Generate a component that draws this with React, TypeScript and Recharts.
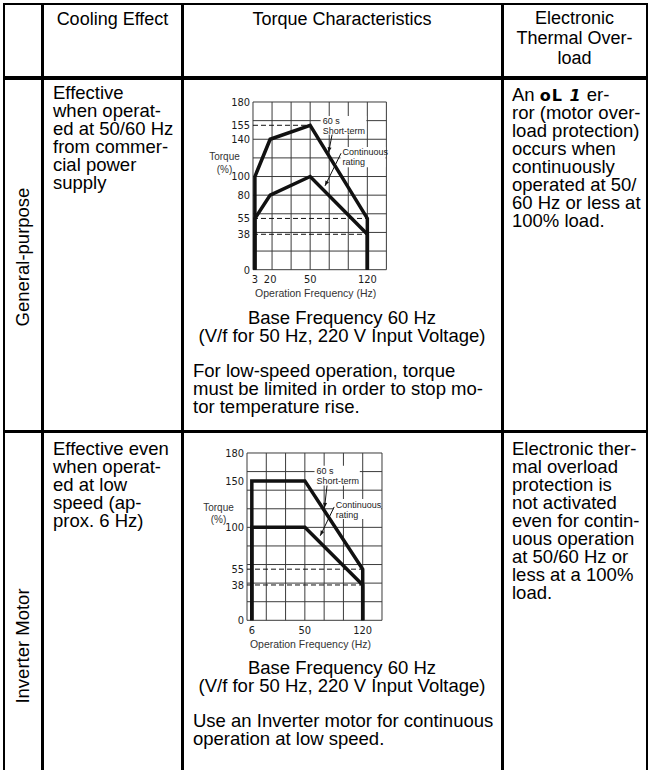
import React from 'react';
import { LineChart, Line, XAxis, YAxis, CartesianGrid, ReferenceLine, ReferenceArea } from 'recharts';

// General-purpose motor (short-term 60 s and continuous rating)
const gpFreq = [3, 3, 20, 50, 120, 120];
const gpShortTerm = [0, 100, 140, 155, 55, 0];
const gpContinuous = [0, 55, 80, 100, 38, 0];
const gpFreqTicks = [3, 20, 50, 120];
const gpTorqueTicks = [0, 38, 55, 80, 100, 140, 155, 180];
const gpGuideTorque = [155, 55, 38];
const gpGuideFreq = [50, 120, 120];

// Inverter motor
const invFreq = [6, 6, 50, 120, 120];
const invShortTerm = [0, 150, 150, 55, 0];
const invContinuous = [0, 100, 100, 38, 0];
const invFreqTicks = [6, 50, 120];
const invTorqueTicks = [0, 38, 55, 100, 150, 180];
const invGuideTorque = [55, 38];
const invGuideFreq = [120, 120];

// the printed frequency axis is not linear: 7 grid columns, ticks sit on these columns
const gpFreqCols = [0.1, 0.9, 3, 6];
const invFreqCols = [0.25, 3, 6];
const torqueGrid = [0, 20, 40, 60, 80, 100, 120, 140, 160, 180];
const colGrid = [0, 1, 2, 3, 4, 5, 6, 7];

const FONT = '"Liberation Sans", Arial, Helvetica, sans-serif';
const NARROW = '"Liberation Sans Narrow", "Arial Narrow", "DejaVu Sans Condensed", "Liberation Sans", sans-serif';

function interp(v: number, xs: number[], ys: number[]) {
  let i = 0;
  while (i < xs.length - 2 && v > xs[i + 1]) i++;
  const t = (v - xs[i]) / (xs[i + 1] - xs[i]);
  return ys[i] + t * (ys[i + 1] - ys[i]);
}

const Arrow = (p: any) => {
  const { x1, y1, x2, y2 } = p;
  const a = Math.atan2(y2 - y1, x2 - x1);
  const bx = x2 - 5 * Math.cos(a);
  const by = y2 - 5 * Math.sin(a);
  const s = Math.sin(a) * 2;
  const c = Math.cos(a) * 2;
  return (
    <g>
      <line x1={x1} y1={y1} x2={x2} y2={y2} stroke="#111" strokeWidth={1} />
      <polygon points={`${x2},${y2} ${bx - s},${by + c} ${bx + s},${by - c}`} fill="#111" />
    </g>
  );
};

type Note = { lines: string[]; c1: number; c2: number; t1: number; t2: number };
type Leader = { from: [number, number]; to: [number, number] };

interface ChartProps {
  freq: number[];
  shortTerm: number[];
  cont: number[];
  freqTicks: number[];
  freqCols: number[];
  torqueTicks: number[];
  guideTorque: number[];
  guideFreq: number[];
  notes: Note[];
  leaders: Leader[];
  plotLeft: number;
  plotTop: number;
  plotW: number;
  plotH: number;
}

function TorqueChart(props: ChartProps) {
  const { freq, shortTerm, cont, freqTicks, freqCols, torqueTicks, guideTorque, guideFreq, notes, leaders, plotLeft, plotTop, plotW, plotH } = props;
  const toCol = (hz: number) => interp(hz, freqTicks, freqCols);
  const data = freq.map((f, i) => ({ col: toCol(f), shortTerm: shortTerm[i], cont: cont[i] }));
  const yW = 50;
  const xH = 36;
  const margin = { top: 10, right: 12, bottom: 2, left: 0 };
  const width = yW + plotW + margin.right;
  const height = margin.top + plotH + xH + margin.bottom;

  const tickLabel = (v: number) => {
    const i = freqTicks.findIndex((t) => Math.abs(toCol(t) - v) < 1e-6);
    return i >= 0 ? String(freqTicks[i]) : '';
  };

  return (
    <div style={{ position: 'absolute', left: plotLeft - yW, top: plotTop - margin.top }}>
      <LineChart width={width} height={height} data={data} margin={margin}>
        <CartesianGrid
          stroke="#3a3a3a"
          strokeWidth={1}
          horizontalValues={torqueGrid}
          verticalValues={colGrid}
          syncWithTicks={false}
        />
        <XAxis
          type="number"
          dataKey="col"
          domain={[0, 7]}
          ticks={freqTicks.map(toCol)}
          tickFormatter={tickLabel}
          interval={0}
          axisLine={false}
          tickLine={false}
          tickSize={4}
          tickMargin={2}
          height={xH}
          tick={{ fontSize: 11, fill: '#1a1a1a', fontFamily: NARROW }}
          label={{
            content: (p: any) => {
              const vb = p.viewBox || {};
              return (
                <text x={vb.x + vb.width / 2 - 4} y={vb.y + 24} textAnchor="middle" dominantBaseline="central" fontSize={10.5} fill="#333" fontFamily={FONT}>
                  Operation Frequency (Hz)
                </text>
              );
            },
          }}
        />
        <YAxis
          type="number"
          domain={[0, 180]}
          ticks={torqueTicks}
          interval={0}
          axisLine={false}
          tickLine={false}
          tickSize={2}
          tickMargin={1}
          width={yW}
          tick={{ fontSize: 11, fill: '#1a1a1a', fontFamily: NARROW }}
          label={{
            content: (p: any) => {
              const vb = p.viewBox || {};
              const cx = vb.x + vb.width - 28.5;
              const y1 = vb.y + vb.height * (1 - 121 / 180);
              const y2 = vb.y + vb.height * (1 - 108 / 180);
              return (
                <g fontSize={10} fill="#333" fontFamily={FONT}>
                  <text x={cx} y={y1} textAnchor="middle" dominantBaseline="central">Torque</text>
                  <text x={cx} y={y2} textAnchor="middle" dominantBaseline="central">(%)</text>
                </g>
              );
            },
          }}
        />
        {guideTorque.map((t, i) => (
          <ReferenceLine
            key={'g' + i}
            segment={[{ x: 0, y: t }, { x: toCol(guideFreq[i]), y: t }]}
            stroke="#111"
            strokeWidth={1}
            strokeDasharray="5 3"
            ifOverflow="visible"
          />
        ))}
        {notes.map((n, i) => (
          <ReferenceArea
            key={'n' + i}
            x1={n.c1}
            x2={n.c2}
            y1={n.t1}
            y2={n.t2}
            fill="#fff"
            fillOpacity={1}
            stroke="none"
            ifOverflow="visible"
            label={{
              content: (p: any) => {
                const vb = p.viewBox || {};
                return (
                  <g fontSize={9} fill="#222" fontFamily={FONT}>
                    {n.lines.map((l, k) => (
                      <text key={k} x={vb.x + 2} y={vb.y + 5.5 + k * 10} dominantBaseline="central">{l}</text>
                    ))}
                  </g>
                );
              },
            }}
          />
        ))}
        {leaders.map((l, i) => (
          <ReferenceLine
            key={'l' + i}
            segment={[{ x: l.from[0], y: l.from[1] }, { x: l.to[0], y: l.to[1] }]}
            shape={Arrow}
            ifOverflow="visible"
          />
        ))}
        <Line type="linear" dataKey="shortTerm" stroke="#111" strokeWidth={3.5} dot={false} isAnimationActive={false} />
        <Line type="linear" dataKey="cont" stroke="#111" strokeWidth={3.5} dot={false} isAnimationActive={false} />
      </LineChart>
    </div>
  );
}

const Rule = ({ x, y, w, h }: { x: number; y: number; w: number; h: number }) => (
  <div style={{ position: 'absolute', left: x, top: y, width: w, height: h, background: '#000' }} />
);

const Block = ({ x, y, w, align = 'left', size = 18.5, lh = 18, lines }: any) => (
  <div style={{ position: 'absolute', left: x, top: y, width: w, textAlign: align, fontSize: size, lineHeight: `${lh}px`, whiteSpace: 'nowrap', color: '#000' }}>
    {lines.map((l: any, i: number) => (
      <div key={i} style={{ height: lh }}>{l === '' ? '\u00a0' : l}</div>
    ))}
  </div>
);

const Rotated = ({ cx, cy, text }: { cx: number; cy: number; text: string }) => (
  <div style={{ position: 'absolute', left: cx, top: cy, transform: 'translate(-50%, -50%) rotate(-90deg)', fontSize: 18.5, whiteSpace: 'nowrap', lineHeight: '20px' }}>
    {text}
  </div>
);

const errCode = (
  <span style={{ fontWeight: 'bold', fontFamily: '"DejaVu Sans", sans-serif', fontSize: 16, letterSpacing: 1 }}>
    oL&nbsp;<i>1</i>
  </span>
);

export default function App() {
  return (
    <div style={{ position: 'absolute', left: 0, top: 0, width: 650, height: 770, background: '#fff', overflow: 'hidden', fontFamily: FONT }}>
      {/* table rules */}
      <Rule x={3} y={2.5} w={645} h={2} />
      <Rule x={3} y={76} w={645} h={3.5} />
      <Rule x={3} y={429.5} w={645} h={3.5} />
      <Rule x={3} y={2.5} w={2} h={770} />
      <Rule x={41} y={2.5} w={2.5} h={770} />
      <Rule x={181} y={2.5} w={2.5} h={770} />
      <Rule x={501} y={2.5} w={2.5} h={770} />
      <Rule x={646} y={2.5} w={2} h={770} />

      {/* header */}
      <Block x={43} y={9} w={139} align="center" size={18} lh={20} lines={['Cooling Effect']} />
      <Block x={183} y={9} w={318} align="center" size={18} lh={20} lines={['Torque Characteristics']} />
      <Block x={503} y={8} w={143} align="center" size={18} lh={20} lines={['Electronic', 'Thermal Over-', 'load']} />

      {/* general-purpose row */}
      <Rotated cx={23} cy={257} text="General-purpose" />
      <Block x={53} y={84} lines={['Effective', 'when operat-', 'ed at 50/60 Hz', 'from commer-', 'cial power', 'supply']} />
      <Block
        x={512}
        y={86}
        lines={[
          <span key="a">An {errCode} er-</span>,
          'ror (motor over-',
          'load protection)',
          'occurs when',
          'continuously',
          'operated at 50/',
          '60 Hz or less at',
          '100% load.',
        ]}
      />
      <TorqueChart
        freq={gpFreq}
        shortTerm={gpShortTerm}
        cont={gpContinuous}
        freqTicks={gpFreqTicks}
        freqCols={gpFreqCols}
        torqueTicks={gpTorqueTicks}
        guideTorque={gpGuideTorque}
        guideFreq={gpGuideFreq}
        notes={[
          { lines: ['60 s', 'Short-term'], c1: 3.55, c2: 5.95, t1: 145, t2: 165 },
          { lines: ['Continuous', 'rating'], c1: 4.59, c2: 6.95, t1: 110, t2: 131.8 },
        ]}
        leaders={[
          { from: [4.15, 145], to: [3.97, 126] },
          { from: [4.62, 125], to: [3.78, 90] },
        ]}
        plotLeft={253.3}
        plotTop={102.3}
        plotW={133.4}
        plotH={167.7}
      />
      <Block x={183} y={309} w={318} align="center" lines={['Base Frequency 60 Hz', '(V/f for 50 Hz, 220 V Input Voltage)']} />
      <Block x={193} y={362} lines={['For low-speed operation, torque', 'must be limited in order to stop mo-', 'tor temperature rise.']} />

      {/* inverter motor row */}
      <Rotated cx={23} cy={646} text="Inverter Motor" />
      <Block x={53} y={440} lines={['Effective even', 'when operat-', 'ed at low', 'speed (ap-', 'prox. 6 Hz)']} />
      <Block
        x={512}
        y={440}
        lines={[
          'Electronic ther-',
          'mal overload',
          'protection is',
          'not activated',
          'even for contin-',
          'uous operation',
          'at 50/60 Hz or',
          'less at a 100%',
          'load.',
        ]}
      />
      <TorqueChart
        freq={invFreq}
        shortTerm={invShortTerm}
        cont={invContinuous}
        freqTicks={invFreqTicks}
        freqCols={invFreqCols}
        torqueTicks={invTorqueTicks}
        guideTorque={invGuideTorque}
        guideFreq={invGuideFreq}
        notes={[
          { lines: ['60 s', 'Short-term'], c1: 3.5, c2: 5.85, t1: 145, t2: 166.2 },
          { lines: ['Continuous', 'rating'], c1: 4.5, c2: 6.95, t1: 109, t2: 130.4 },
        ]}
        leaders={[
          { from: [4.15, 145], to: [4.02, 121] },
          { from: [4.52, 122], to: [3.8, 91] },
        ]}
        plotLeft={247.3}
        plotTop={452.7}
        plotW={135}
        plotH={167.3}
      />
      <Block x={183} y={659} w={318} align="center" lines={['Base Frequency 60 Hz', '(V/f for 50 Hz, 220 V Input Voltage)']} />
      <Block x={193} y={712} lines={['Use an Inverter motor for continuous', 'operation at low speed.']} />
    </div>
  );
}
